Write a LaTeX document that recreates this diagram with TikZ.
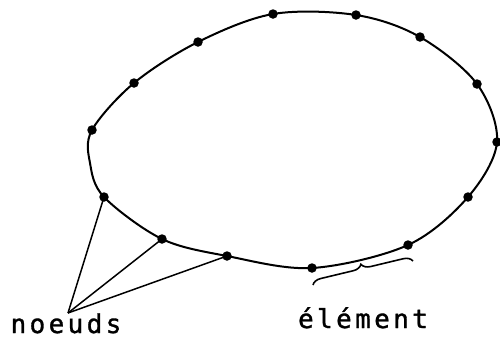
\documentclass[tikz,border=0pt]{standalone}
\usepackage{fontspec}
\newfontfamily\plotfont[LetterSpace=13,FakeBold=1.2]{DejaVu Sans Mono}
\usetikzlibrary{decorations.pathreplacing}
\begin{document}
\begin{tikzpicture}[x=1pt,y=-1pt,
  dot/.style={circle,fill=black,inner sep=0pt,minimum size=9.5pt},
  contour/.style={line width=2pt},
  leader/.style={line width=1.5pt},
  label/.style={font=\plotfont\fontsize{26}{26}\selectfont,inner sep=0pt,anchor=base}]
\useasboundingbox (0,0) rectangle (500,341);
% nodes on the boundary
\node[dot] (n1) at (92,130) {};
\node[dot] (n2) at (134,83) {};
\node[dot] (n3) at (198,42) {};
\node[dot] (n4) at (273,14) {};
\node[dot] (n5) at (356,15) {};
\node[dot] (n6) at (420,37) {};
\node[dot] (n7) at (477,84) {};
\node[dot] (n8) at (497,142) {};
\node[dot] (n9) at (468,197) {};
\node[dot] (n10) at (408,245) {};
\node[dot] (n11) at (312,268) {};
\node[dot] (n12) at (227,256) {};
\node[dot] (n13) at (162,239) {};
\node[dot] (n14) at (104,197) {};
\coordinate (w) at (90,163);
% contour
\draw[contour] plot[smooth cycle,tension=0.55] coordinates {
  (n1.center) (n2.center) (n3.center) (n4.center) (n5.center) (n6.center)
  (n7.center) (n8.center) (n9.center) (n10.center) (n11.center)
  (n12.center) (n13.center) (n14.center) (w)};
% labels
\node[label] (noeuds) at (66,333) {noeuds};
\node[label] (elem) at (363,328) {élément};
% leaders
\coordinate (apex) at (68,313);
\draw[leader] (apex) -- (n14.center);
\draw[leader] (apex) -- (n13.center);
\draw[leader] (apex) -- (n12.center);
% brace
\draw[line width=1.6pt,decorate,decoration={brace,amplitude=9pt}] (313,285) -- (413,261);
\end{tikzpicture}
\end{document}
